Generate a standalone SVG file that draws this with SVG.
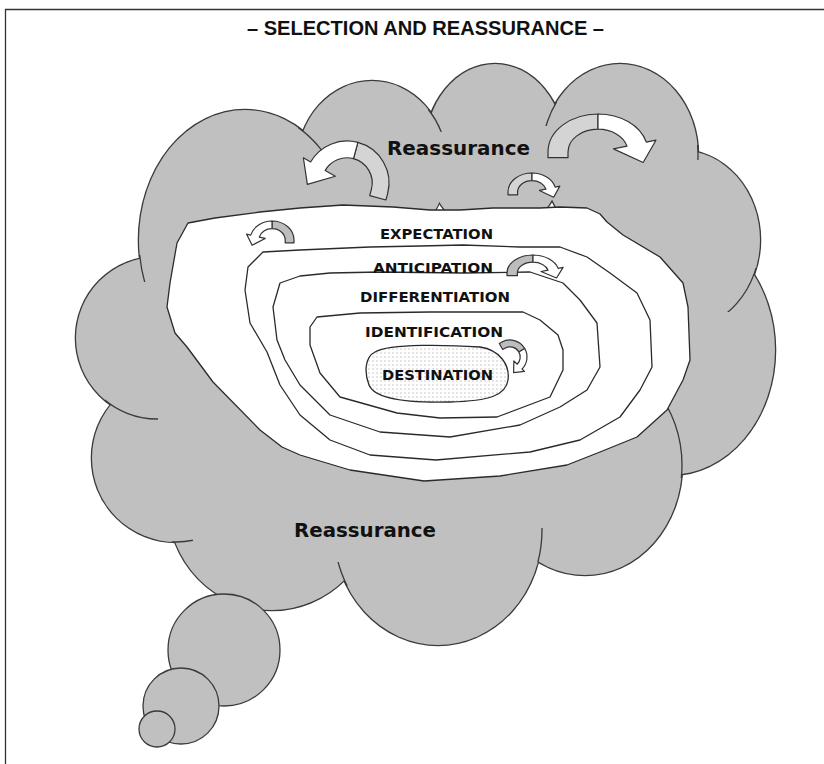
<svg xmlns="http://www.w3.org/2000/svg" width="824" height="764" viewBox="0 0 824 764">
<style>
.cs{fill:#c0c0c0;stroke:#3a3a3a;stroke-width:2.6}
.cf{fill:#c0c0c0;stroke:none}
.tl{fill:none;stroke:#3a3a3a;stroke-width:1.3}
.bb{fill:#c0c0c0;stroke:#3a3a3a;stroke-width:1.3}
.ln{fill:none;stroke:#2a2a2a;stroke-width:1.3;stroke-linejoin:round}
.lb{font-family:"DejaVu Sans",Verdana,sans-serif;font-weight:bold;font-size:14px;fill:#111}
.re{font-family:"DejaVu Sans",Verdana,sans-serif;font-weight:bold;font-size:20px;fill:#111}
.tt{font-family:"Liberation Sans",Arial,sans-serif;font-weight:bold;font-size:19.5px;fill:#111}
.ar{stroke:#333;stroke-width:1.2;stroke-linejoin:round}
</style>
<defs>
<ellipse id="eA" cx="245" cy="240" rx="106" ry="130"/>
<ellipse id="eB" cx="372" cy="165" rx="75" ry="84"/>
<ellipse id="eC" cx="495" cy="150" rx="70" ry="86"/>
<ellipse id="eD" cx="620" cy="155" rx="78" ry="91"/>
<ellipse id="eE" cx="680" cy="240" rx="80" ry="90"/>
<ellipse id="eF" cx="670" cy="350" rx="105" ry="125"/>
<ellipse id="eG" cx="585" cy="465" rx="97" ry="110"/>
<ellipse id="eH" cx="438" cy="530" rx="104" ry="115"/>
<ellipse id="eI" cx="272" cy="503" rx="104" ry="107"/>
<ellipse id="eL2" cx="176" cy="458" rx="84" ry="84"/>
<ellipse id="eL1" cx="157" cy="338" rx="81" ry="81"/>
<clipPath id="kA1"><rect x="135" y="255" width="15" height="27"/></clipPath>
<clipPath id="kA2"><rect x="298" y="125" width="28" height="31"/></clipPath>
<clipPath id="kB"><rect x="428" y="108" width="14" height="24"/></clipPath>
<clipPath id="kD1"><rect x="543" y="100" width="14" height="26"/></clipPath>
<clipPath id="kD2"><rect x="692" y="145" width="10" height="15"/></clipPath>
<clipPath id="kE"><rect x="725" y="268" width="33" height="44"/></clipPath>
<clipPath id="kL1"><rect x="105" y="398" width="53" height="24"/></clipPath>
<clipPath id="kG"><rect x="660" y="405" width="26" height="73"/></clipPath>
<clipPath id="kL2"><rect x="172" y="528" width="21" height="18"/></clipPath>
<clipPath id="kH1"><rect x="328" y="562" width="20" height="24"/></clipPath>
<clipPath id="kH2"><rect x="535" y="528" width="11" height="34"/></clipPath>
<pattern id="dots" width="4" height="4" patternUnits="userSpaceOnUse"><rect width="4" height="4" fill="#fff"/><circle cx="1" cy="1" r="0.7" fill="#b4b4b4"/></pattern>
<g id="arr">
<path vector-effect="non-scaling-stroke" d="M-1,0.15 L-1,0 A1,1 0 0 1 0,-1 L0,-0.6 A0.6,0.6 0 0 0 -0.6,0 L-0.6,0.15 Z"/>
<path vector-effect="non-scaling-stroke" fill="#fff" d="M0,-1 A1,1 0 0 1 0.966,-0.259 L1.159,-0.311 L0.903,0.276 L0.309,-0.083 L0.58,-0.155 A0.6,0.6 0 0 0 0,-0.6 Z"/>
</g>
</defs>

<path d="M5.5,764 V9.5 H824" fill="none" stroke="#333" stroke-width="1.3"/>
<text class="tt" x="247" y="35" textLength="357" lengthAdjust="spacingAndGlyphs">– SELECTION AND REASSURANCE –</text>

<g id="cloud">
<use href="#eA" class="cs"/><use href="#eB" class="cs"/><use href="#eC" class="cs"/><use href="#eD" class="cs"/>
<use href="#eE" class="cs"/><use href="#eF" class="cs"/><use href="#eG" class="cs"/><use href="#eH" class="cs"/>
<use href="#eI" class="cs"/><use href="#eL2" class="cs"/><use href="#eL1" class="cs"/>
<use href="#eA" class="cf"/><use href="#eB" class="cf"/><use href="#eC" class="cf"/><use href="#eD" class="cf"/>
<use href="#eE" class="cf"/><use href="#eF" class="cf"/><use href="#eG" class="cf"/><use href="#eH" class="cf"/>
<use href="#eI" class="cf"/><use href="#eL2" class="cf"/><use href="#eL1" class="cf"/>
<use href="#eA" class="tl" clip-path="url(#kA1)"/>
<use href="#eA" class="tl" clip-path="url(#kA2)"/>
<use href="#eB" class="tl" clip-path="url(#kB)"/>
<use href="#eD" class="tl" clip-path="url(#kD1)"/>
<use href="#eD" class="tl" clip-path="url(#kD2)"/>
<use href="#eE" class="tl" clip-path="url(#kE)"/>
<use href="#eL1" class="tl" clip-path="url(#kL1)"/>
<use href="#eG" class="tl" clip-path="url(#kG)"/>
<use href="#eL2" class="tl" clip-path="url(#kL2)"/>
<use href="#eH" class="tl" clip-path="url(#kH1)"/>
<use href="#eH" class="tl" clip-path="url(#kH2)"/>
</g>

<g id="bubbles">
<circle class="bb" cx="224" cy="650" r="56"/>
<circle class="bb" cx="181" cy="706" r="38"/>
<circle class="bb" cx="157" cy="729" r="18"/>
</g>

<g id="expectation">
<path fill="#fff" stroke="#2a2a2a" stroke-width="1.3" stroke-linejoin="round" d="M188,223 L215,218 260,212 300,208 343,205 393,207 430,210 460,210 493,208 540,208 560,207 587,208 600,214 607,222 623,235 660,257 683,283 688,307 690,360 683,380 667,410 637,437 600,452 567,465 500,476 424,481 350,470 300,455 282,447 260,430 213,382 187,347 175,333 167,307 170,283 177,243 Z"/>
</g>
<g id="anticipation">
<path class="ln" d="M263,252 L300,250 370,247 420,246 463,245 520,247 560,247 587,257 610,273 637,293 650,320 652,367 640,390 620,417 580,440 530,452 436,460 370,455 330,440 300,415 280,385 267,352 250,323 245,290 248,267 Z"/>
</g>
<g id="differentiation">
<path class="ln" d="M280,283 L300,276 330,273 380,272 463,273 530,272 563,283 580,300 597,323 600,367 587,390 560,407 520,425 450,437 380,432 330,415 300,385 285,360 277,340 273,307 Z"/>
</g>
<g id="identification">
<path class="ln" d="M317,317 L360,313 430,312 480,312 523,312 540,320 558,335 563,350 563,370 550,397 497,417 440,418 397,413 340,397 320,373 310,345 310,327 Z"/>
</g>
<g id="destination">
<path fill="url(#dots)" stroke="#2a2a2a" stroke-width="1.3" d="M375,352 C390,343 450,345 480,347 C500,350 510,365 508,380 C506,395 490,401 450,402 C410,403 375,400 369,385 C364,372 365,357 375,352 Z"/>
</g>

<g id="arrows">
<use href="#arr" class="ar" fill="#d4d4d4" transform="translate(347,183) rotate(15) scale(-42,42)"/>
<use href="#arr" class="ar" fill="#d4d4d4" transform="translate(598,152) scale(50,38)"/>
<use href="#arr" class="ar" fill="#d4d4d4" transform="translate(532,192) scale(24,19)"/>
<use href="#arr" class="ar" fill="#bdbdbd" transform="translate(272,240) scale(-22,19)"/>
<use href="#arr" class="ar" fill="#bdbdbd" transform="translate(533,273) scale(26,18)"/>
<use href="#arr" class="ar" fill="#bdbdbd" transform="translate(510,357) rotate(60) scale(17,17)"/>
</g>

<g id="labels">
<text class="re" x="387" y="155" textLength="143" lengthAdjust="spacingAndGlyphs">Reassurance</text>
<text class="lb" x="380" y="239" textLength="113" lengthAdjust="spacingAndGlyphs">EXPECTATION</text>
<text class="lb" x="373" y="273" textLength="120" lengthAdjust="spacingAndGlyphs">ANTICIPATION</text>
<text class="lb" x="360" y="302" textLength="150" lengthAdjust="spacingAndGlyphs">DIFFERENTIATION</text>
<text class="lb" x="365" y="337" textLength="138" lengthAdjust="spacingAndGlyphs">IDENTIFICATION</text>
<text class="lb" x="382" y="380" textLength="111" lengthAdjust="spacingAndGlyphs">DESTINATION</text>
<text class="re" x="294" y="537" textLength="142" lengthAdjust="spacingAndGlyphs">Reassurance</text>
</g>
</svg>
